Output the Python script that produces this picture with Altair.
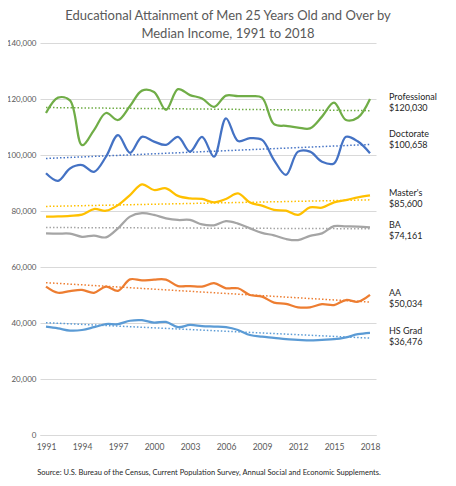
import altair as alt
import pandas as pd

years = list(range(1991, 2019))

series_names = ["Professional", "Doctorate", "Master's", "BA", "AA", "HS Grad"]
series_colors = ["#70AD47", "#4472C4", "#FFC000", "#A5A5A5", "#ED7D31", "#5B9BD5"]

professional = [115000, 120500, 119500, 103500, 108900, 115000, 112500, 117500,
                123000, 122500, 116100, 123500, 121400, 120200, 117200, 121200,
                121000, 121000, 120500, 111000, 110400, 109800, 109500, 113700,
                118700, 112500, 113400, 120030]
doctorate = [93500, 90800, 95200, 96400, 94000, 99400, 107100, 100800,
             106500, 104800, 103600, 106500, 101200, 106500, 99400, 113100,
             105000, 106000, 105400, 98200, 92900, 101200, 101200, 97600,
             97000, 106500, 104800, 100658]
masters = [78000, 78100, 78300, 78700, 80700, 80100, 82100, 85700,
           89500, 87500, 88100, 85400, 84500, 84300, 83100, 84300,
           86300, 83000, 81900, 80400, 80100, 78600, 81300, 81200,
           83100, 83900, 84900, 85600]
ba = [72000, 71900, 71900, 70800, 71200, 70600, 73800, 78000,
      79200, 78600, 77400, 76800, 76800, 75200, 74900, 76400,
      75500, 73800, 72200, 71300, 70000, 69600, 71100, 72000,
      74600, 74500, 74400, 74161]
aa = [53000, 50800, 51400, 51800, 50800, 53000, 51500, 55600,
      55200, 55500, 55500, 53200, 53200, 53000, 54200, 52400,
      52400, 50000, 49400, 47300, 46800, 45600, 45600, 46700,
      46400, 48200, 47600, 50034]
hs_grad = [38700, 38100, 37300, 37500, 38500, 39600, 39600, 40800,
           41000, 40100, 40400, 38500, 39300, 38900, 38700, 38500,
           37500, 35700, 35100, 34700, 34200, 34000, 33800, 34000,
           34200, 34900, 36000, 36476]

x_ticks = [1991, 1994, 1997, 2000, 2003, 2006, 2009, 2012, 2015, 2018]
y_ticks = [0, 20000, 40000, 60000, 80000, 100000, 120000, 140000]

title_lines = ["Educational Attainment of Men 25 Years Old and Over by",
               "Median Income, 1991 to 2018"]
source_note = ("Source: U.S. Bureau of the Census, Current Population Survey, "
               "Annual Social and Economic Supplements.")

FONT = "Lato"

all_values = [professional, doctorate, masters, ba, aa, hs_grad]
rows = []
for name, values in zip(series_names, all_values):
    for year, value in zip(years, values):
        rows.append({"series": name, "year": year, "value": value})
data = pd.DataFrame(rows)

labels = pd.DataFrame({
    "series": series_names,
    "year": [years[-1]] * len(series_names),
    "value": [v[-1] for v in all_values],
    "label": [f"{n}\n${v[-1]:,}" for n, v in zip(series_names, all_values)],
})

color = alt.Color("series:N", legend=None,
                  scale=alt.Scale(domain=series_names, range=series_colors))

x = alt.X("year:O",
          scale=alt.Scale(type="point", padding=0.5, domain=years),
          axis=alt.Axis(values=x_ticks, title=None, grid=False, labelAngle=0,
                        ticks=False, domainColor="#D9D9D9", labelPadding=7,
                        labelOverlap=False,
                        labelFontSize=8.5, labelColor="#595959", labelFont=FONT))
y = alt.Y("value:Q",
          scale=alt.Scale(domain=[0, 140000], nice=False),
          axis=alt.Axis(values=y_ticks, format=",d", title=None, ticks=False,
                        domain=False, gridColor="#D9D9D9", labelPadding=4,
                        labelOverlap=False,
                        labelFontSize=8, labelColor="#595959", labelFont=FONT))

base = alt.Chart(data)

lines = base.mark_line(interpolate="catmull-rom", strokeWidth=2.25).encode(
    x=x, y=y, color=color)

trends = base.mark_line(strokeWidth=1.5, strokeDash=[1.5, 2]).encode(
    x=x, y=y, color=color
).transform_regression("year", "value", groupby=["series"])

label_base = alt.Chart(labels)
text_common = dict(align="left", baseline="middle", lineBreak="\n",
                   fontSize=9, font=FONT, color="#262626", dx=19)
end_labels = label_base.mark_text(dy=-2, **text_common).encode(
    x=x, y="value:Q", text="label:N"
).transform_filter(alt.datum.series != "Doctorate")
doc_label = label_base.mark_text(dy=-19, **text_common).encode(
    x=x, y="value:Q", text="label:N"
).transform_filter(alt.datum.series == "Doctorate")

title = alt.Chart(pd.DataFrame({"t": title_lines, "line": [0, 1]})).mark_text(
    fontSize=13, font=FONT, color="#595959", align="center", baseline="middle"
).encode(
    x=alt.value(188),
    y=alt.YValue(alt.expr("-27 + datum.line * 18")),
    text="t:N",
)

source = alt.Chart(pd.DataFrame({"t": [source_note]})).mark_text(
    fontSize=7.5, font=FONT, color="#262626", align="center", baseline="middle"
).encode(x=alt.value(169), y=alt.value(430), text="t:N")

chart = alt.layer(lines, trends, end_labels, doc_label, title, source).properties(
    width=336,
    height=392,
    autosize=alt.AutoSizeParams(type="none"),
    padding={"left": 32, "top": 35, "right": 72, "bottom": 43},
).configure_view(stroke=None)

chart.save("out.html", embed_options={"renderer": "svg", "actions": False})
